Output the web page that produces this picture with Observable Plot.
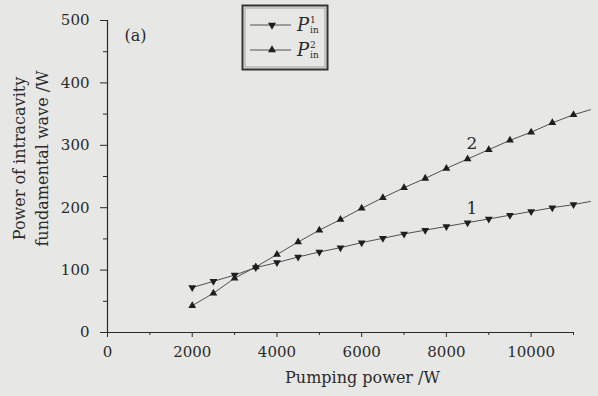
<!DOCTYPE html>
<html>
<head>
<meta charset="utf-8">
<script src="https://cdn.jsdelivr.net/npm/d3@7"></script>
<script src="https://cdn.jsdelivr.net/npm/@observablehq/plot@0.6"></script>
<style>
  html, body { margin: 0; padding: 0; background: #e7e7e5; }
  #wrap { position: relative; width: 598px; height: 396px; }
  #legend { position: absolute; left: 0; top: 0; }
</style>
</head>
<body>
<div id="wrap"></div>
<script>
// Pumping power (W)
const pump = [2000, 2500, 3000, 3500, 4000, 4500, 5000, 5500, 6000, 6500,
              7000, 7500, 8000, 8500, 9000, 9500, 10000, 10500, 11000];
// P_in^1 (curve 1)
const p1 = [72, 82, 92, 104, 112, 121, 129, 136, 144, 151,
            158, 164, 170, 176, 182, 188, 194, 200, 205];
// P_in^2 (curve 2)
const p2 = [43, 63, 87, 105, 125, 145, 164, 181, 199, 216,
            232, 247, 263, 278, 293, 308, 321, 336, 349];
// lines continue slightly past last marker
const lineEndX = 11400;
const lineEnd1 = 210;
const lineEnd2 = 357;

const xTicks = [0, 2000, 4000, 6000, 8000, 10000];
const xMinor = [1000, 3000, 5000, 7000, 9000, 11000];
const yTicks = [0, 100, 200, 300, 400, 500];
const yMinor = [50, 150, 250, 350, 450];

const curveLabels = [
  {x: 8600, y: 198, text: "1"},
  {x: 8600, y: 303, text: "2"}
];
const panelLabel = [{x: 400, y: 476, text: "(a)"}];
const xLabel = "Pumping power /W";
const yLabel = "Power of intracavity\nfundamental wave /W";
const legendNames = ["1", "2"];

const pts1 = pump.map((x, i) => ({x, y: p1[i]}));
const pts2 = pump.map((x, i) => ({x, y: p2[i]}));
const line1 = [...pts1, {x: lineEndX, y: lineEnd1}];
const line2 = [...pts2, {x: lineEndX, y: lineEnd2}];

const downTriangle = {
  draw(context, size) {
    const y = -Math.sqrt(size / (Math.sqrt(3) * 3));
    context.moveTo(0, -y * 2);
    context.lineTo(-Math.sqrt(3) * y, y);
    context.lineTo(Math.sqrt(3) * y, y);
    context.closePath();
  }
};

const ink = "#2b2b2b";
const lineInk = "#505050";

const chart = Plot.plot({
  width: 598,
  height: 396,
  marginLeft: 107,
  marginRight: 25,
  marginTop: 20,
  marginBottom: 64,
  style: {background: "transparent", fontFamily: "DejaVu Serif", fontSize: "15px", color: ink},
  x: {domain: [0, 11000], label: null},
  y: {domain: [0, 500], label: null},
  marks: [
    Plot.axisX({ticks: xTicks, tickSize: 5, tickPadding: 9, tickFormat: d => String(d), label: null, stroke: ink}),
    Plot.axisX({ticks: xMinor, tickSize: 3, text: null, label: null, stroke: ink}),
    Plot.axisY({ticks: yTicks, tickSize: 7, tickPadding: 11, tickFormat: d => String(d), label: null, stroke: ink}),
    Plot.axisY({ticks: yMinor, tickSize: 4, text: null, label: null, stroke: ink}),
    Plot.ruleX([0], {stroke: ink, strokeWidth: 1.2}),
    Plot.ruleY([0], {stroke: ink, strokeWidth: 1.2}),
    Plot.line(line1, {x: "x", y: "y", stroke: lineInk, strokeWidth: 1}),
    Plot.line(line2, {x: "x", y: "y", stroke: lineInk, strokeWidth: 1}),
    Plot.dot(pts1, {x: "x", y: "y", symbol: downTriangle, r: 2.9, fill: "#1e1e1e", stroke: "none"}),
    Plot.dot(pts2, {x: "x", y: "y", symbol: "triangle", r: 2.9, fill: "#1e1e1e", stroke: "none"}),
    Plot.text(curveLabels, {x: "x", y: "y", text: "text", fontSize: 17, fill: ink}),
    Plot.text(panelLabel, {x: "x", y: "y", text: "text", fontSize: 16, textAnchor: "start", fill: ink}),
    Plot.text([xLabel], {text: d => d, frameAnchor: "bottom", dx: 22, dy: 50, fontSize: 16, fill: ink}),
    Plot.text([yLabel], {text: d => d, frameAnchor: "left", textAnchor: "middle", lineAnchor: "middle", dx: -78, dy: -18, rotate: -90, fontSize: 16, lineHeight: 1.4, fill: ink})
  ]
});

const wrap = document.getElementById("wrap");
wrap.appendChild(chart);

// Legend box (drawn as an overlay)
const leg = d3.select(wrap).append("svg")
  .attr("id", "legend")
  .attr("width", 598).attr("height", 80)
  .style("font-family", "DejaVu Serif");
leg.append("rect").attr("x", 242.5).attr("y", 5.5).attr("width", 85).attr("height", 64)
  .attr("fill", "none").attr("stroke", "#333").attr("stroke-width", 2);
leg.append("rect").attr("x", 245).attr("y", 8).attr("width", 80).attr("height", 59)
  .attr("fill", "none").attr("stroke", "#777").attr("stroke-width", 0.6);
const symUp = d3.symbol().type(d3.symbolTriangle).size(28);
const symDown = d3.symbol().type(downTriangle).size(28);
legendNames.forEach((n, i) => {
  const cy = 25 + i * 25;
  leg.append("line").attr("x1", 250).attr("x2", 291).attr("y1", cy).attr("y2", cy)
    .attr("stroke", lineInk).attr("stroke-width", 1);
  leg.append("path").attr("d", i === 0 ? symDown() : symUp())
    .attr("transform", `translate(272,${cy})`).attr("fill", "#1e1e1e");
  leg.append("text").attr("x", 297).attr("y", cy + 6).attr("font-size", 18)
    .attr("font-style", "italic").attr("fill", ink).text("P");
  leg.append("text").attr("x", 310).attr("y", cy - 2).attr("font-size", 9)
    .attr("fill", ink).text(n);
  leg.append("text").attr("x", 310).attr("y", cy + 8).attr("font-size", 9)
    .attr("fill", ink).text("in");
});
</script>
</body>
</html>
